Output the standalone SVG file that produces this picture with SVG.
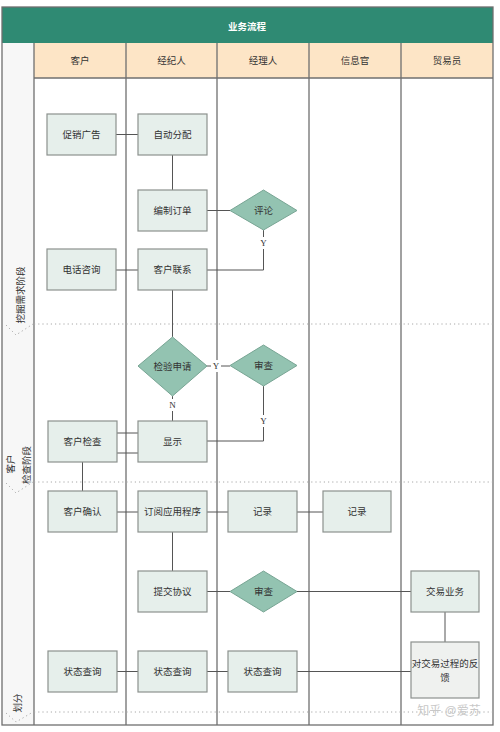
<svg xmlns="http://www.w3.org/2000/svg" width="500" height="732" viewBox="0 0 500 732">
<defs>
<style>
.t{font-family:"Liberation Sans","Noto Sans CJK SC",sans-serif;font-size:9.5px;fill:#333;text-anchor:middle;dominant-baseline:central}
.yn{font-family:"Liberation Serif","DejaVu Serif",serif;font-size:9px;fill:#333;text-anchor:middle;dominant-baseline:central}
.box{fill:#e6efeb;stroke:#8c918e;stroke-width:1.2}
.dia{fill:#93c3b1;stroke:#78a594;stroke-width:1}
.lane{stroke:#6f6f6f;stroke-width:1.3;fill:none}
.dot{stroke:#a8a8a8;stroke-width:1;stroke-dasharray:1.2 3;fill:none}
.c{stroke:#555;stroke-width:1;fill:none}
</style>
</defs>
<rect x="0" y="0" width="500" height="732" fill="#fff"/>
<g id="frame">
<rect x="2" y="43" width="32" height="682" fill="#f7f7f7"/>
<rect x="2" y="7" width="491" height="36" fill="#2f8a73"/>
<text class="t" x="247" y="26" style="fill:#fff;font-weight:bold">业务流程</text>
<rect x="34" y="43" width="459" height="35" fill="#fde5c6"/>
<line class="lane" x1="34" y1="78" x2="493" y2="78"/>
<rect x="2" y="7" width="491" height="718" class="lane"/>
<line class="lane" x1="34" y1="43" x2="34" y2="725"/>
<line class="lane" x1="126" y1="43" x2="126" y2="725"/>
<line class="lane" x1="217" y1="43" x2="217" y2="725"/>
<line class="lane" x1="309" y1="43" x2="309" y2="725"/>
<line class="lane" x1="401" y1="43" x2="401" y2="725"/>
<text class="t" x="80" y="60">客户</text>
<text class="t" x="171.5" y="60">经纪人</text>
<text class="t" x="263" y="60">经理人</text>
<text class="t" x="355" y="60">信息官</text>
<text class="t" x="447" y="60">贸易员</text>
<line class="dot" x1="34" y1="324" x2="493" y2="324"/>
<line class="dot" x1="34" y1="482" x2="493" y2="482"/>
<line class="dot" x1="34" y1="712" x2="493" y2="712"/>
<path class="dot" d="M6,325 L16,335 L33,324"/>
<path class="dot" d="M6,483 L16,493 L33,482"/>
<path class="dot" d="M6,713 L16,722 L33,712"/>
<text class="t" transform="translate(20,295) rotate(-90)">挖掘需求阶段</text>
<text class="t" transform="translate(10,464) rotate(-90)">客户</text>
<text class="t" transform="translate(26,465) rotate(-90)">检查阶段</text>
<text class="t" transform="translate(17,703) rotate(-90)">划分</text>
</g>
<g id="connectors">
<line class="c" x1="116" y1="134.5" x2="138" y2="134.5"/>
<line class="c" x1="172.5" y1="155" x2="172.5" y2="190"/>
<line class="c" x1="207" y1="210.5" x2="230" y2="210.5"/>
<path class="c" d="M263.5,230 L263.5,270 L207,270"/>
<line class="c" x1="116" y1="270" x2="138" y2="270"/>
<line class="c" x1="172.5" y1="290" x2="172.5" y2="337"/>
<line class="c" x1="207" y1="366" x2="230" y2="366"/>
<line class="c" x1="172.5" y1="396" x2="172.5" y2="421"/>
<path class="c" d="M263.5,386 L263.5,441 L207,441"/>
<line class="c" x1="117" y1="433" x2="138" y2="433"/>
<line class="c" x1="117" y1="453" x2="138" y2="453"/>
<line class="c" x1="82.5" y1="462" x2="82.5" y2="491"/>
<line class="c" x1="117" y1="512" x2="138" y2="512"/>
<line class="c" x1="207" y1="512" x2="228" y2="512"/>
<line class="c" x1="297" y1="512" x2="323" y2="512"/>
<line class="c" x1="172.5" y1="532" x2="172.5" y2="571"/>
<line class="c" x1="207" y1="591.5" x2="230" y2="591.5"/>
<line class="c" x1="297" y1="591.5" x2="411" y2="591.5"/>
<line class="c" x1="445" y1="612" x2="445" y2="642"/>
<line class="c" x1="117" y1="671.5" x2="138" y2="671.5"/>
<line class="c" x1="207" y1="671.5" x2="228" y2="671.5"/>
<line class="c" x1="297" y1="671.5" x2="411" y2="671.5"/>
<rect x="259" y="237" width="9" height="12" fill="#fff"/>
<text class="yn" x="263.5" y="243">Y</text>
<rect x="211" y="360" width="10" height="12" fill="#fff"/>
<text class="yn" x="216" y="366">Y</text>
<rect x="168" y="399" width="9" height="12" fill="#fff"/>
<text class="yn" x="172.5" y="405">N</text>
<rect x="259" y="415" width="9" height="12" fill="#fff"/>
<text class="yn" x="263.5" y="421">Y</text>
</g>
<g id="n1"><rect class="box" x="47" y="114" width="69" height="41"/><text class="t" x="81.5" y="134.5">促销广告</text></g>
<g id="n2"><rect class="box" x="138" y="114" width="69" height="41"/><text class="t" x="172.5" y="134.5">自动分配</text></g>
<g id="n3"><rect class="box" x="138" y="190" width="69" height="41"/><text class="t" x="172.5" y="210.5">编制订单</text></g>
<g id="n4"><polygon class="dia" points="263.5,190 297,210.5 263.5,230 230,210.5"/><text class="t" x="263.5" y="210.5">评论</text></g>
<g id="n5"><rect class="box" x="47" y="249" width="69" height="41"/><text class="t" x="81.5" y="269.5">电话咨询</text></g>
<g id="n6"><rect class="box" x="138" y="249" width="69" height="41"/><text class="t" x="172.5" y="269.5">客户联系</text></g>
<g id="n7"><polygon class="dia" points="172.5,337 207,366 172.5,396 138,366"/><text class="t" x="172.5" y="366">检验申请</text></g>
<g id="n8"><polygon class="dia" points="263.5,345 297,365.5 263.5,386 230,365.5"/><text class="t" x="263.5" y="365.5">审查</text></g>
<g id="n9"><rect class="box" x="48" y="421" width="69" height="41"/><text class="t" x="82.5" y="441.5">客户检查</text></g>
<g id="n10"><rect class="box" x="138" y="421" width="69" height="41"/><text class="t" x="172.5" y="441.5">显示</text></g>
<g id="n11"><rect class="box" x="48" y="491" width="69" height="41"/><text class="t" x="82.5" y="511.5">客户确认</text></g>
<g id="n12"><rect class="box" x="138" y="491" width="69" height="41"/><text class="t" x="172.5" y="511.5">订阅应用程序</text></g>
<g id="n13"><rect class="box" x="228" y="491" width="69" height="41"/><text class="t" x="262.5" y="511.5">记录</text></g>
<g id="n14"><rect class="box" x="323" y="491" width="68" height="41"/><text class="t" x="357" y="511.5">记录</text></g>
<g id="n15"><rect class="box" x="138" y="571" width="69" height="41"/><text class="t" x="172.5" y="591.5">提交协议</text></g>
<g id="n16"><polygon class="dia" points="263.5,571 297,591.5 263.5,612 230,591.5"/><text class="t" x="263.5" y="591.5">审查</text></g>
<g id="n17"><rect class="box" x="411" y="571" width="68" height="41"/><text class="t" x="445" y="591.5">交易业务</text></g>
<g id="n18"><rect class="box" x="411" y="642" width="68" height="56" style="fill:#eff1ef"/><text class="t" x="445" y="663">对交易过程的反</text><text class="t" x="445" y="677">馈</text></g>
<g id="n19"><rect class="box" x="48" y="651" width="69" height="41"/><text class="t" x="82.5" y="671.5">状态查询</text></g>
<g id="n20"><rect class="box" x="138" y="651" width="69" height="41"/><text class="t" x="172.5" y="671.5">状态查询</text></g>
<g id="n21"><rect class="box" x="228" y="651" width="69" height="41"/><text class="t" x="262.5" y="671.5">状态查询</text></g>
<text class="t" x="449" y="711" style="font-size:12px;fill:#c8c8c8">知乎 @爱苏</text>
</svg>
